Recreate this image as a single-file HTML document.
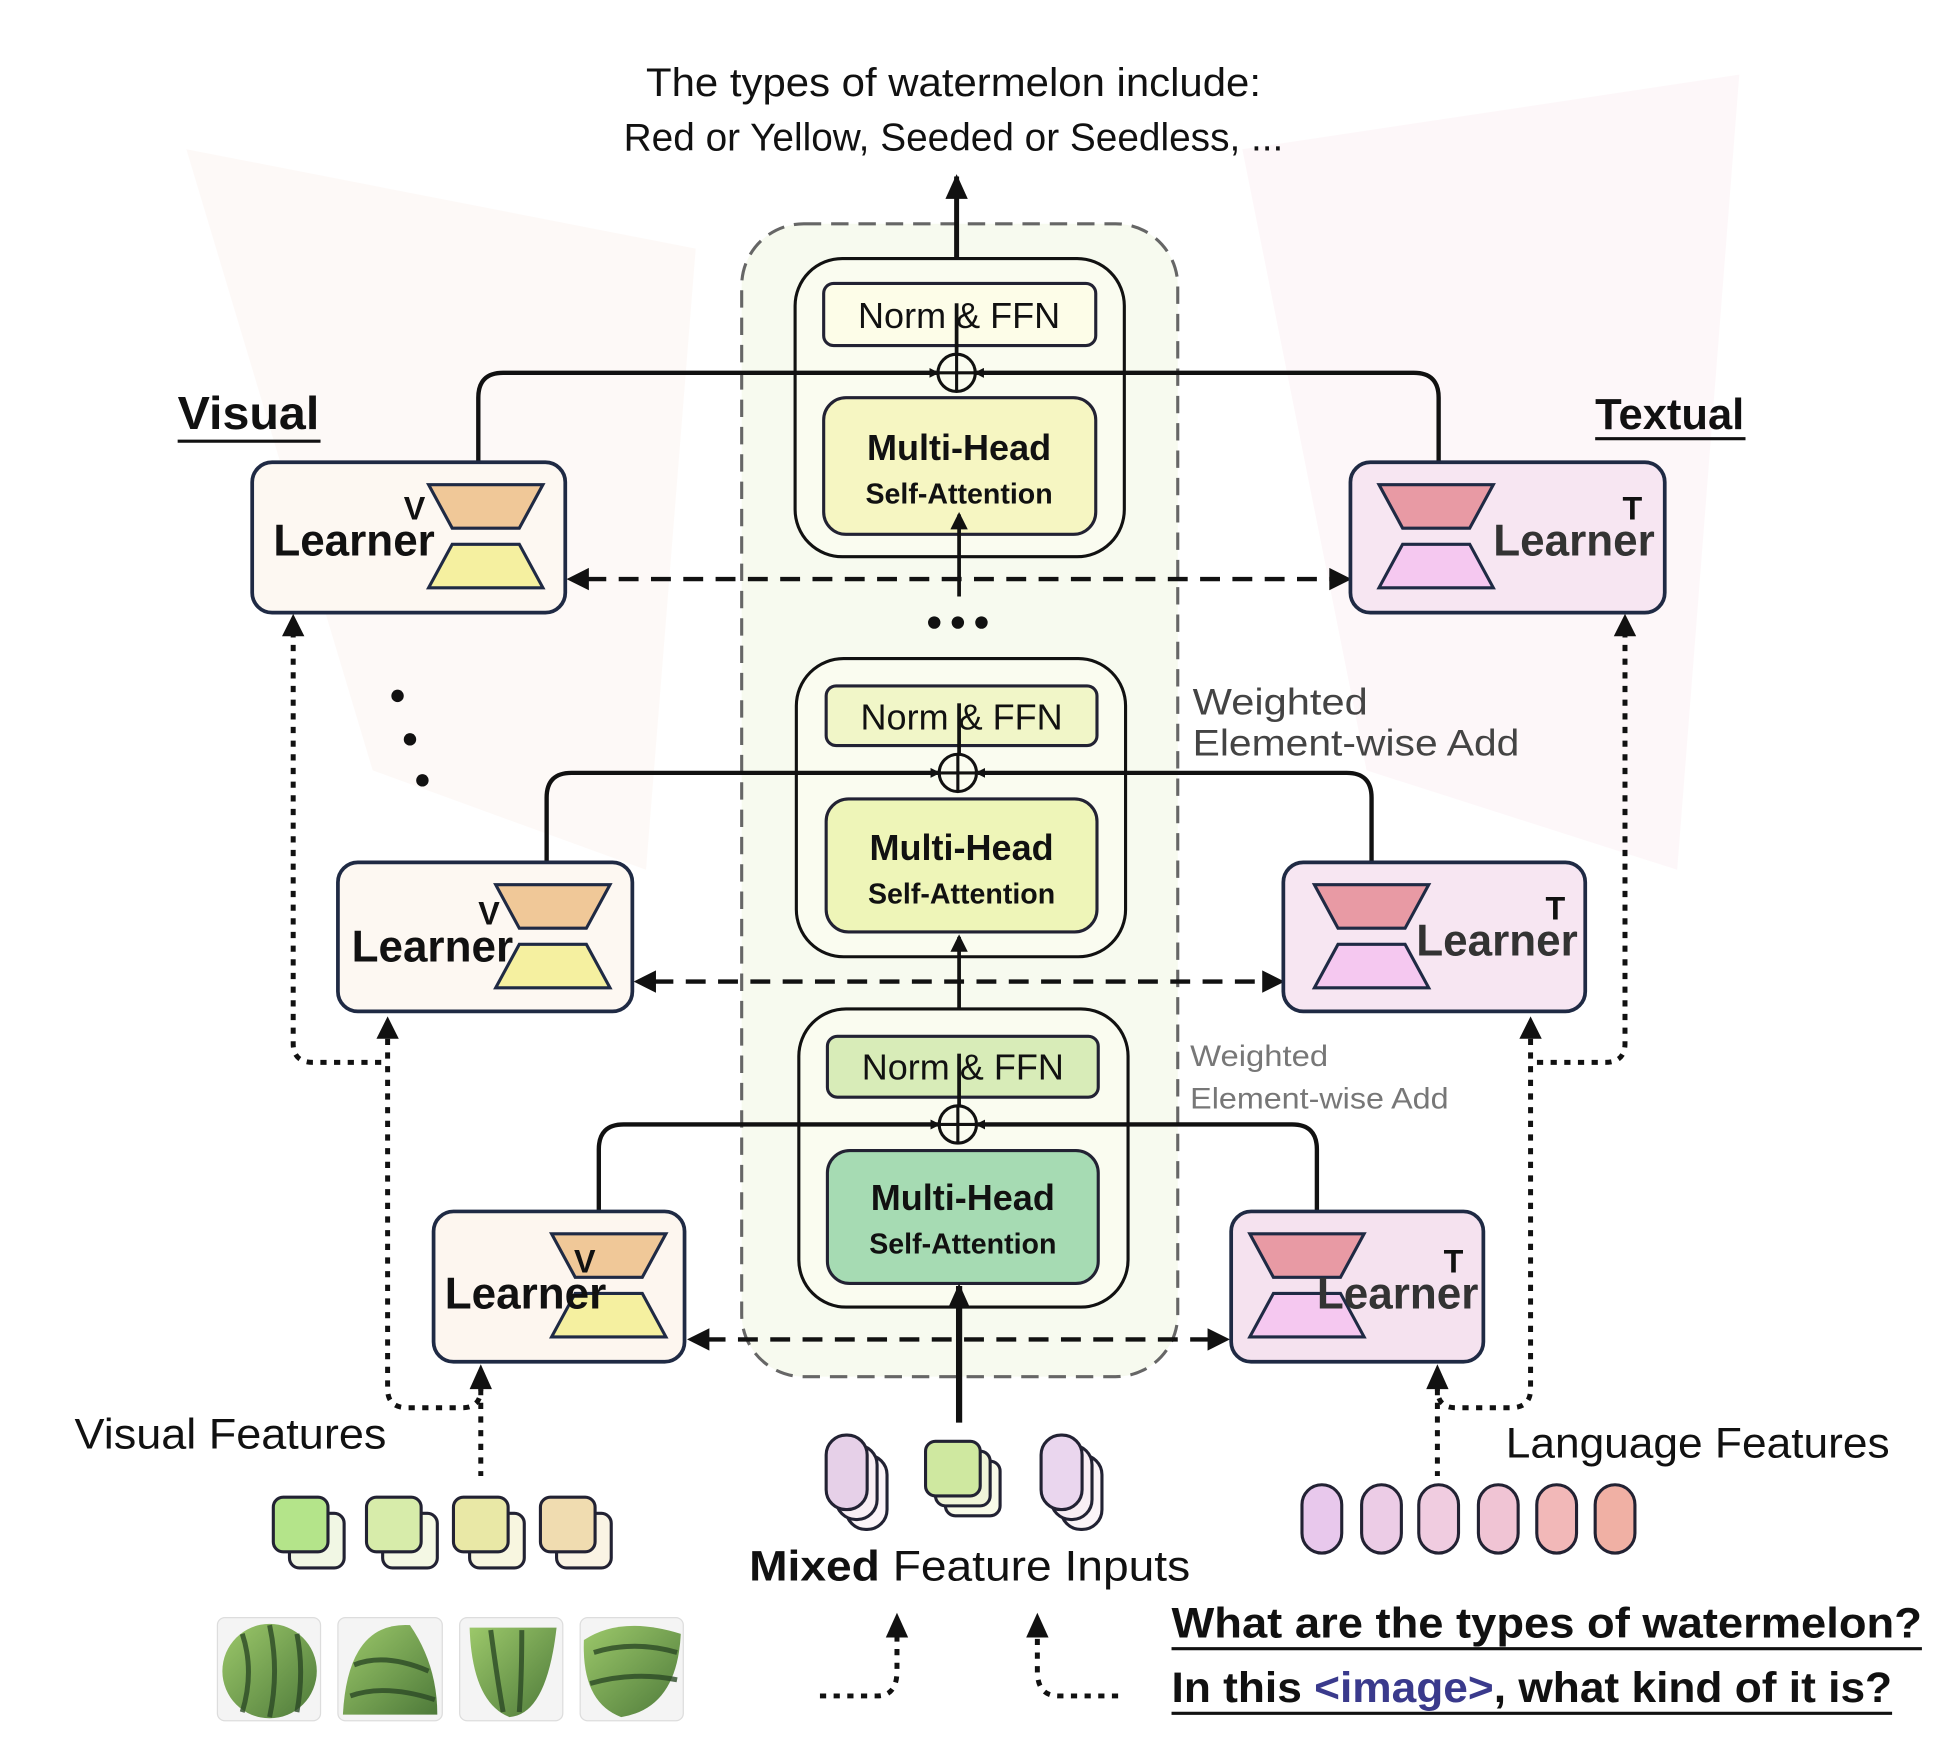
<!DOCTYPE html>
<html><head><meta charset="utf-8"><style>
html,body{margin:0;padding:0;background:#fff;}
svg{display:block;}
text{font-family:"Liberation Sans","DejaVu Sans",sans-serif;}
</style></head><body>
<svg width="1948" height="1752" viewBox="0 0 1568 1410" xmlns="http://www.w3.org/2000/svg">
<defs>
<marker id="ah" markerWidth="8" markerHeight="8" refX="6" refY="4" orient="auto" markerUnits="userSpaceOnUse"><path d="M0,0 L8,4 L0,8 z" fill="#111"/></marker>
<marker id="ahb" markerWidth="22" markerHeight="22" refX="18" refY="11" orient="auto" markerUnits="userSpaceOnUse"><path d="M0,2 L20,11 L0,20 z" fill="#111"/></marker>
<marker id="ahs" markerWidth="14" markerHeight="14" refX="12" refY="7" orient="auto" markerUnits="userSpaceOnUse"><path d="M0,0 L14,7 L0,14 z" fill="#111"/></marker>
<linearGradient id="wm" x1="0" y1="0" x2="1" y2="1"><stop offset="0" stop-color="#9cc86a"/><stop offset="1" stop-color="#4e7a3a"/></linearGradient>
</defs>
<rect width="1568" height="1410" fill="#fff"/>
<!-- faint background -->
<path d="M150,120 L560,200 L520,700 L300,620 Z" fill="#f7ece4" opacity="0.3"/>
<path d="M1000,120 L1400,60 L1350,700 L1100,620 Z" fill="#f7e6ea" opacity="0.3"/>

<!-- title -->
<text x="520" y="77" font-size="32" textLength="495" lengthAdjust="spacingAndGlyphs" fill="#111">The types of watermelon include:</text>
<text x="502" y="121" font-size="31" textLength="531" lengthAdjust="spacingAndGlyphs" fill="#111">Red or Yellow, Seeded or Seedless, ...</text>

<!-- dashed container -->
<rect x="597" y="180" width="351" height="928" rx="50" fill="#f4f8e8" fill-opacity="0.7" stroke="#666" stroke-width="2.5" stroke-dasharray="14,8"/>

<!-- output arrow -->
<line x1="770" y1="226" x2="770" y2="142" stroke="#111" stroke-width="4" marker-end="url(#ahb)"/>

<!-- blocks -->
<g stroke="#111" stroke-width="2.5">
<rect x="640" y="208" width="265" height="240" rx="38" fill="#fafcf0"/>
<rect x="663" y="228" width="219" height="50" rx="8" fill="#fdfde8" stroke="#223"/>
<rect x="663" y="320" width="219" height="110" rx="18" fill="#f6f6c2" stroke="#223"/>
<rect x="641" y="530" width="265" height="240" rx="38" fill="#fafcf0"/>
<rect x="665" y="552" width="218" height="48" rx="8" fill="#f1f6c8" stroke="#223"/>
<rect x="665" y="643" width="218" height="107" rx="18" fill="#eef5b8" stroke="#223"/>
<rect x="643" y="812" width="265" height="240" rx="38" fill="#fafcf0"/>
<rect x="666" y="834" width="218" height="49" rx="8" fill="#d8ecb8" stroke="#223"/>
<rect x="666" y="926" width="218" height="107" rx="18" fill="#a6dbb3" stroke="#223"/>
</g>
<g font-size="29" text-anchor="middle" fill="#111">
<text x="772" y="264">Norm &amp; FFN</text>
<text x="774" y="587">Norm &amp; FFN</text>
<text x="775" y="869">Norm &amp; FFN</text>
</g>
<g text-anchor="middle" fill="#111" font-weight="bold">
<text x="772" y="370" font-size="29">Multi-Head</text><text x="772" y="405" font-size="23">Self-Attention</text>
<text x="774" y="692" font-size="29">Multi-Head</text><text x="774" y="727" font-size="23">Self-Attention</text>
<text x="775" y="974" font-size="29">Multi-Head</text><text x="775" y="1009" font-size="23">Self-Attention</text>
</g>

<!-- vertical internal arrows -->
<g stroke="#111" stroke-width="3">
<line x1="770" y1="284" x2="770" y2="244"/>
<line x1="772" y1="480" x2="772" y2="414" marker-end="url(#ahs)"/>
<line x1="772" y1="607" x2="772" y2="566"/>
<line x1="772" y1="812" x2="772" y2="754" marker-end="url(#ahs)"/>
<line x1="772" y1="890" x2="772" y2="848"/>
<line x1="772" y1="1145" x2="772" y2="1035" stroke-width="5" marker-end="url(#ahb)"/>
</g>
<g fill="#111"><circle cx="752" cy="501" r="5"/><circle cx="771" cy="501" r="5"/><circle cx="790" cy="501" r="5"/></g>

<!-- plus circles -->
<g stroke="#111" stroke-width="2.5" fill="none">
<circle cx="770" cy="300" r="15"/><line x1="755" y1="300" x2="785" y2="300"/><line x1="770" y1="285" x2="770" y2="315"/>
<circle cx="771" cy="622" r="15"/><line x1="756" y1="622" x2="786" y2="622"/><line x1="771" y1="607" x2="771" y2="637"/>
<circle cx="771" cy="905" r="15"/><line x1="756" y1="905" x2="786" y2="905"/><line x1="771" y1="890" x2="771" y2="920"/>
</g>

<!-- horizontal feed lines -->
<g stroke="#111" stroke-width="3.5" fill="none">
<path d="M385,372 L385,320 Q385,300 405,300 L754,300" marker-end="url(#ah)"/>
<path d="M1158,372 L1158,320 Q1158,300 1138,300 L786,300" marker-end="url(#ah)"/>
<path d="M440,694 L440,642 Q440,622 460,622 L755,622" marker-end="url(#ah)"/>
<path d="M1104,694 L1104,642 Q1104,622 1084,622 L787,622" marker-end="url(#ah)"/>
<path d="M482,975 L482,925 Q482,905 502,905 L755,905" marker-end="url(#ah)"/>
<path d="M1060,975 L1060,925 Q1060,905 1040,905 L787,905" marker-end="url(#ah)"/>
</g>

<!-- dashed double arrows -->
<g stroke="#111" stroke-width="3.5" stroke-dasharray="16,10">
<line x1="472" y1="466" x2="1072" y2="466"/>
<line x1="526" y1="790" x2="1018" y2="790"/>
<line x1="568" y1="1078" x2="976" y2="1078"/>
</g>
<g fill="#111">
<path d="M456,466 L474,457 L474,475Z"/><path d="M1088,466 L1070,457 L1070,475Z"/>
<path d="M510,790 L528,781 L528,799Z"/><path d="M1034,790 L1016,781 L1016,799Z"/>
<path d="M553,1078 L571,1069 L571,1087Z"/><path d="M990,1078 L972,1069 L972,1087Z"/>
</g>

<!-- learners -->
<g stroke="#1f2a44" stroke-width="3">
<rect x="203" y="372" width="252" height="121" rx="16" fill="#fdf8f2"/>
<rect x="272" y="694" width="237" height="120" rx="16" fill="#fdf8f2"/>
<rect x="349" y="975" width="202" height="121" rx="16" fill="#fdf6ef"/>
<rect x="1087" y="372" width="253" height="121" rx="16" fill="#f7e6f2"/>
<rect x="1033" y="694" width="243" height="120" rx="16" fill="#f7e6f2"/>
<rect x="991" y="975" width="203" height="121" rx="16" fill="#f5e2ef"/>
</g>
<!-- hourglasses -->
<g stroke="#1f2a44" stroke-width="2.5">
<path d="M345,390 L437,390 L418,425 L364,425Z" fill="#f0c898"/><path d="M364,438 L418,438 L437,473 L345,473Z" fill="#f5f0a0"/>
<path d="M399,712 L491,712 L472,747 L418,747Z" fill="#f0c898"/><path d="M418,760 L472,760 L491,795 L399,795Z" fill="#f5f0a0"/>
<path d="M444,993 L536,993 L517,1028 L463,1028Z" fill="#f0c898"/><path d="M463,1041 L517,1041 L536,1076 L444,1076Z" fill="#f5f0a0"/>
<path d="M1110,390 L1202,390 L1183,425 L1129,425Z" fill="#e89aa4"/><path d="M1129,438 L1183,438 L1202,473 L1110,473Z" fill="#f5c8f0"/>
<path d="M1058,712 L1150,712 L1131,747 L1077,747Z" fill="#e89aa4"/><path d="M1077,760 L1131,760 L1150,795 L1058,795Z" fill="#f5c8f0"/>
<path d="M1006,993 L1098,993 L1079,1028 L1025,1028Z" fill="#e89aa4"/><path d="M1025,1041 L1079,1041 L1098,1076 L1006,1076Z" fill="#f5c8f0"/>
</g>
<g font-size="36" fill="#111" font-weight="bold">
<text x="220" y="447" textLength="130" lengthAdjust="spacingAndGlyphs">Learner</text><text x="325" y="418" font-size="26" font-family="Liberation Mono,monospace">V</text>
<text x="283" y="774" textLength="130" lengthAdjust="spacingAndGlyphs">Learner</text><text x="385" y="744" font-size="26" font-family="Liberation Mono,monospace">V</text>
<text x="358" y="1053" textLength="130" lengthAdjust="spacingAndGlyphs">Learner</text><text x="462" y="1024" font-size="26" font-family="Liberation Mono,monospace">V</text>
<text x="1202" y="447" fill="#333" textLength="130" lengthAdjust="spacingAndGlyphs">Learner</text><text x="1306" y="418" font-size="26" font-family="Liberation Mono,monospace">T</text>
<text x="1140" y="769" fill="#333" textLength="130" lengthAdjust="spacingAndGlyphs">Learner</text><text x="1244" y="740" font-size="26" font-family="Liberation Mono,monospace">T</text>
<text x="1060" y="1053" fill="#333" textLength="130" lengthAdjust="spacingAndGlyphs">Learner</text><text x="1162" y="1024" font-size="26" font-family="Liberation Mono,monospace">T</text>
</g>

<!-- labels -->
<text x="143" y="345" font-size="37" font-weight="bold" fill="#111" textLength="114" lengthAdjust="spacingAndGlyphs">Visual</text>
<line x1="143" y1="355" x2="258" y2="355" stroke="#111" stroke-width="2.5"/>
<text x="1284" y="345" font-size="35" font-weight="bold" fill="#111" textLength="120" lengthAdjust="spacingAndGlyphs">Textual</text>
<line x1="1284" y1="353" x2="1405" y2="353" stroke="#111" stroke-width="2.5"/>
<text x="960" y="575" font-size="30" fill="#444" textLength="141" lengthAdjust="spacingAndGlyphs">Weighted</text>
<text x="960" y="608" font-size="30" fill="#444" textLength="263" lengthAdjust="spacingAndGlyphs">Element-wise Add</text>
<text x="958" y="858" font-size="24" fill="#777" textLength="111" lengthAdjust="spacingAndGlyphs">Weighted</text>
<text x="958" y="892" font-size="24" fill="#777" textLength="208" lengthAdjust="spacingAndGlyphs">Element-wise Add</text>

<!-- diagonal dots -->
<g fill="#111"><circle cx="320" cy="560" r="5"/><circle cx="330" cy="595" r="5"/><circle cx="340" cy="628" r="5"/></g>

<!-- dotted connectors -->
<g stroke="#111" stroke-width="4" stroke-dasharray="5,6" fill="none">
<path d="M236,508 L236,840 Q236,855 252,855 L312,855"/>
<path d="M312,836 L312,1118 Q312,1133 328,1133 L372,1133 Q387,1133 387,1118"/>
<path d="M387,1118 L387,1188"/>
<path d="M1308,508 L1308,840 Q1308,855 1292,855 L1232,855"/>
<path d="M1232,836 L1232,1118 Q1232,1133 1216,1133 L1172,1133 Q1157,1133 1157,1118"/>
<path d="M1157,1118 L1157,1188"/>
<path d="M660,1365 L706,1365 Q722,1365 722,1345 L722,1318"/>
<path d="M900,1365 L852,1365 Q835,1365 835,1345 L835,1318"/>
</g>
<g fill="#111">
<path d="M236,494 L227,512 L245,512Z"/><path d="M312,818 L303,836 L321,836Z"/>
<path d="M387,1098 L378,1118 L396,1118Z"/>
<path d="M1308,494 L1299,512 L1317,512Z"/><path d="M1232,818 L1223,836 L1241,836Z"/>
<path d="M1157,1098 L1148,1118 L1166,1118Z"/>
<path d="M722,1298 L713,1318 L731,1318Z"/><path d="M835,1298 L826,1318 L844,1318Z"/>
</g>

<!-- features -->
<text x="60" y="1166" font-size="34" fill="#111" textLength="251" lengthAdjust="spacingAndGlyphs">Visual Features</text>
<text x="1212" y="1173" font-size="34" fill="#111" textLength="309" lengthAdjust="spacingAndGlyphs">Language Features</text>
<g stroke="#223" stroke-width="2.5">
<rect x="233" y="1218" width="44" height="44" rx="8" fill="#f1f7e4"/><rect x="220" y="1205" width="44" height="44" rx="8" fill="#b4e48a"/>
<rect x="308" y="1218" width="44" height="44" rx="8" fill="#f4f8e4"/><rect x="295" y="1205" width="44" height="44" rx="8" fill="#d7ecaa"/>
<rect x="378" y="1218" width="44" height="44" rx="8" fill="#f8f6e0"/><rect x="365" y="1205" width="44" height="44" rx="8" fill="#e9e8a6"/>
<rect x="448" y="1218" width="44" height="44" rx="8" fill="#faf4e4"/><rect x="435" y="1205" width="44" height="44" rx="8" fill="#f0dcb0"/>
<rect x="681" y="1171" width="33" height="60" rx="16" fill="#fbf4f8"/><rect x="673" y="1163" width="33" height="60" rx="16" fill="#f8eef4"/><rect x="665" y="1155" width="33" height="60" rx="16" fill="#e6d0e8"/>
<rect x="761" y="1176" width="44" height="44" rx="8" fill="#f8fae8"/><rect x="753" y="1168" width="44" height="44" rx="8" fill="#f0f4d8"/><rect x="745" y="1160" width="44" height="44" rx="8" fill="#cfe8a0"/>
<rect x="854" y="1171" width="33" height="60" rx="16" fill="#fbf4f8"/><rect x="846" y="1163" width="33" height="60" rx="16" fill="#f8eef4"/><rect x="838" y="1155" width="33" height="60" rx="16" fill="#ead6ee"/>
<rect x="1048" y="1195" width="32" height="55" rx="16" fill="#e8c8ec"/>
<rect x="1096" y="1195" width="32" height="55" rx="16" fill="#eccce6"/>
<rect x="1142" y="1195" width="32" height="55" rx="16" fill="#f0cce0"/>
<rect x="1190" y="1195" width="32" height="55" rx="16" fill="#f0c4d4"/>
<rect x="1237" y="1195" width="32" height="55" rx="16" fill="#f2b8b8"/>
<rect x="1284" y="1195" width="32" height="55" rx="16" fill="#f0b0a4"/>
</g>

<!-- watermelon images -->
<g>
<rect x="175" y="1302" width="83" height="83" rx="6" fill="#f4f4f4" stroke="#ddd"/>
<ellipse cx="217" cy="1345" rx="38" ry="38" fill="url(#wm)"/>
<rect x="272" y="1302" width="84" height="83" rx="6" fill="#f4f4f4" stroke="#ddd"/>
<path d="M276,1380 Q280,1305 330,1308 Q352,1340 352,1380Z" fill="url(#wm)"/>
<rect x="370" y="1302" width="83" height="83" rx="6" fill="#f4f4f4" stroke="#ddd"/>
<path d="M378,1310 L448,1310 Q440,1380 410,1382 Q380,1370 378,1310Z" fill="url(#wm)"/>
<rect x="467" y="1302" width="83" height="83" rx="6" fill="#f4f4f4" stroke="#ddd"/>
<path d="M470,1320 Q500,1300 548,1315 Q545,1375 500,1382 Q468,1370 470,1320Z" fill="url(#wm)"/>
<g stroke="#2c4a26" stroke-width="4" fill="none" opacity="0.8">
<path d="M195,1315 Q205,1345 195,1378"/><path d="M217,1308 Q225,1345 217,1382"/><path d="M239,1315 Q245,1345 239,1378"/>
<path d="M285,1340 Q310,1330 345,1345"/><path d="M282,1365 Q310,1355 350,1368"/>
<path d="M395,1312 Q400,1350 405,1378"/><path d="M420,1312 Q420,1350 418,1378"/>
<path d="M478,1330 Q510,1320 545,1330"/><path d="M475,1355 Q510,1345 545,1352"/>
</g>
</g>

<!-- mixed inputs text -->
<text x="603" y="1272" font-size="34" fill="#111" textLength="355" lengthAdjust="spacingAndGlyphs"><tspan font-weight="bold">Mixed</tspan> Feature Inputs</text>

<!-- question -->
<text x="943" y="1318" font-size="34" font-weight="bold" fill="#111" textLength="604" lengthAdjust="spacingAndGlyphs">What are the types of watermelon?</text>
<line x1="943" y1="1327" x2="1547" y2="1327" stroke="#111" stroke-width="2.5"/>
<text x="943" y="1370" font-size="34" font-weight="bold" fill="#111" textLength="580" lengthAdjust="spacingAndGlyphs">In this <tspan fill="#3a3a8c">&lt;image&gt;</tspan>, what kind of it is?</text>
<line x1="943" y1="1379" x2="1523" y2="1379" stroke="#111" stroke-width="2.5"/>
</svg>
</body></html>
